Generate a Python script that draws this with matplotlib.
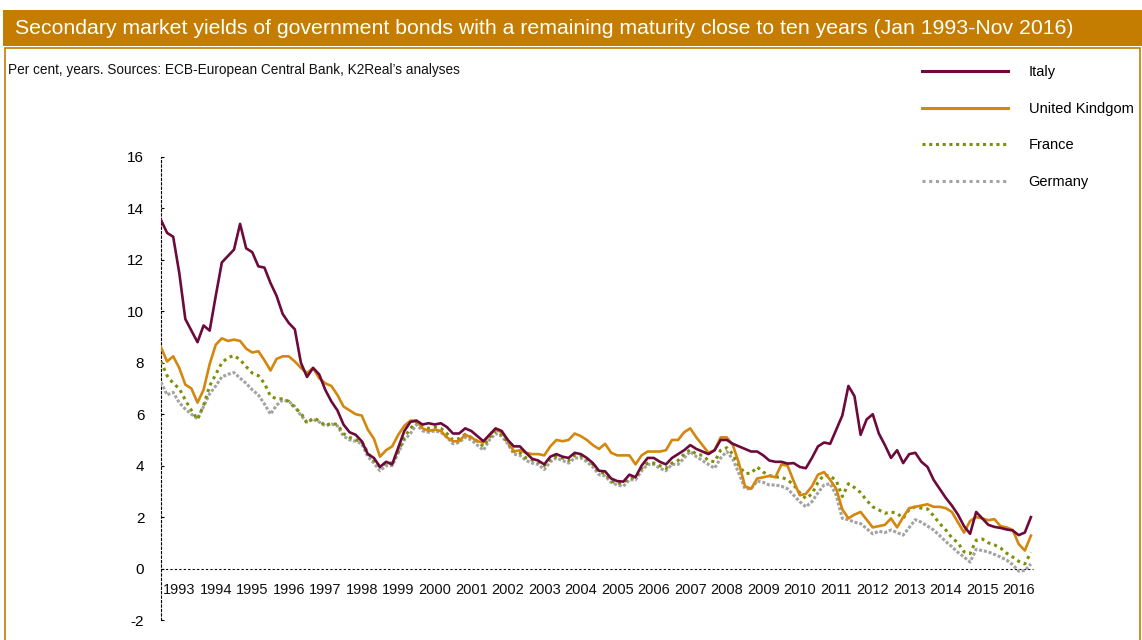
import numpy as np
import matplotlib
matplotlib.use("Agg")
import matplotlib.pyplot as plt
from matplotlib.patches import Rectangle
from matplotlib.lines import Line2D

# Bimonthly observations (Jan, Mar, May, Jul, Sep, Nov), Jan 1993 - Nov 2016
italy = [
    13.55, 13.05, 12.9, 11.5, 9.7, 9.25,
    8.8, 9.45, 9.25, 10.6, 11.9, 12.15,
    12.4, 13.4, 12.45, 12.3, 11.75, 11.7,
    11.1, 10.6, 9.9, 9.55, 9.3, 8.0,
    7.45, 7.8, 7.55, 6.95, 6.5, 6.15,
    5.6, 5.3, 5.2, 4.95, 4.45, 4.3,
    3.95, 4.15, 4.05, 4.7, 5.35, 5.7,
    5.75, 5.6, 5.65, 5.6, 5.65, 5.5,
    5.25, 5.25, 5.45, 5.35, 5.15, 4.95,
    5.2, 5.45, 5.35, 5.0, 4.75, 4.75,
    4.5, 4.27, 4.2, 4.05, 4.35, 4.45,
    4.35, 4.3, 4.5, 4.45, 4.3, 4.1,
    3.8, 3.78, 3.5, 3.4, 3.38, 3.65,
    3.55, 4.0, 4.3, 4.3, 4.15, 4.05,
    4.3, 4.45, 4.6, 4.8, 4.65, 4.55,
    4.45, 4.6, 5.0, 5.0, 4.85, 4.75,
    4.65, 4.55, 4.55, 4.4, 4.2, 4.15,
    4.15, 4.08, 4.1, 3.95, 3.9, 4.3,
    4.75, 4.9, 4.85, 5.4, 5.95, 7.1,
    6.7, 5.2, 5.8, 6.0, 5.25, 4.8,
    4.3, 4.6, 4.1, 4.45, 4.5, 4.15,
    3.95, 3.45, 3.1, 2.75, 2.45, 2.1,
    1.65, 1.35, 2.2, 1.95, 1.7, 1.62,
    1.58, 1.52, 1.48, 1.3, 1.4, 2.0,
]

united_kingdom = [
    8.6, 8.05, 8.25, 7.8, 7.15, 7.0,
    6.45, 6.95, 7.95, 8.7, 8.95, 8.85,
    8.9, 8.85, 8.55, 8.4, 8.45, 8.1,
    7.7, 8.15, 8.25, 8.25, 8.05, 7.8,
    7.6, 7.8, 7.4, 7.2, 7.1, 6.75,
    6.3, 6.15, 6.0, 5.95, 5.4, 5.05,
    4.35, 4.6, 4.75, 5.2, 5.55, 5.75,
    5.75, 5.45, 5.35, 5.4, 5.35, 5.1,
    4.95, 4.95, 5.2, 5.1, 4.95, 4.9,
    5.2, 5.4, 5.3, 5.0, 4.55, 4.6,
    4.5, 4.45, 4.45, 4.4, 4.75, 5.0,
    4.95, 5.0, 5.25, 5.15, 5.0, 4.8,
    4.65, 4.85, 4.5, 4.4, 4.4, 4.4,
    4.05, 4.4, 4.55, 4.55, 4.55, 4.6,
    5.0, 5.0, 5.3, 5.45, 5.1, 4.8,
    4.5, 4.6, 5.1, 5.1, 4.8, 4.1,
    3.2, 3.1, 3.5, 3.55, 3.6, 3.55,
    4.05, 4.0, 3.4, 2.85, 2.9, 3.2,
    3.65, 3.75, 3.45, 3.1, 2.3, 1.95,
    2.1, 2.2, 1.9, 1.6, 1.65, 1.7,
    1.95, 1.6, 2.0, 2.35, 2.4, 2.45,
    2.5, 2.4, 2.4, 2.35, 2.2, 1.8,
    1.4, 1.85, 2.0, 1.95, 1.88, 1.92,
    1.65, 1.6, 1.5, 0.95, 0.7, 1.28,
]

france = [
    8.05, 7.5, 7.2, 7.0, 6.55, 6.15,
    5.8, 6.35, 7.1, 7.55, 8.0, 8.2,
    8.28, 8.12, 7.85, 7.6, 7.5, 7.2,
    6.7, 6.6, 6.6, 6.5, 6.25, 6.05,
    5.65, 5.85, 5.75, 5.55, 5.65, 5.6,
    5.25, 5.1, 5.0, 4.95, 4.5, 4.2,
    3.95, 4.12, 4.1, 4.55, 5.1, 5.45,
    5.7, 5.5, 5.45, 5.5, 5.45, 5.25,
    5.0, 5.05, 5.22, 5.1, 4.95, 4.75,
    5.1, 5.35, 5.2, 4.9, 4.55, 4.5,
    4.3, 4.22, 4.15, 4.0, 4.25, 4.35,
    4.3, 4.2, 4.4, 4.38, 4.25, 4.05,
    3.75, 3.7, 3.4, 3.3, 3.35, 3.5,
    3.55, 3.9, 4.1, 4.1, 4.0, 3.9,
    4.1, 4.2, 4.45, 4.62, 4.45, 4.4,
    4.2, 4.15, 4.6, 4.7, 4.45, 4.0,
    3.7, 3.7, 3.95, 3.75, 3.62, 3.56,
    3.55, 3.45, 3.25, 2.95, 2.72, 2.9,
    3.35, 3.65, 3.6, 3.42, 2.8, 3.3,
    3.15, 2.95, 2.65, 2.4, 2.28, 2.15,
    2.2, 2.15, 1.95, 2.3, 2.4, 2.35,
    2.32, 2.05, 1.75, 1.5, 1.2, 1.0,
    0.65, 0.58, 1.1, 1.15, 1.0, 0.92,
    0.8, 0.6, 0.45, 0.28, 0.18, 0.63,
]

germany = [
    7.25, 6.75, 6.85, 6.45, 6.2, 6.0,
    5.82, 6.3, 6.8, 7.1, 7.45, 7.55,
    7.62, 7.4, 7.2, 6.95, 6.75, 6.4,
    6.0, 6.35, 6.55, 6.5, 6.3, 5.95,
    5.7, 5.8, 5.7, 5.55, 5.62, 5.55,
    5.15, 5.0, 4.95, 4.85, 4.35, 4.1,
    3.8, 4.0, 4.0, 4.5, 5.0, 5.25,
    5.6, 5.35, 5.3, 5.35, 5.3, 5.1,
    4.85, 4.9, 5.1, 5.0, 4.8, 4.6,
    5.0, 5.25, 5.15, 4.85, 4.45, 4.4,
    4.2, 4.1, 4.05, 3.85, 4.15, 4.3,
    4.2, 4.1, 4.3, 4.3, 4.15, 3.95,
    3.65, 3.6, 3.35, 3.25, 3.2, 3.45,
    3.45, 3.8, 4.05, 4.05, 3.9, 3.8,
    4.05, 4.05, 4.3, 4.55, 4.35, 4.2,
    4.05, 3.9, 4.3, 4.55, 4.25, 3.7,
    3.1, 3.1, 3.4, 3.35, 3.25, 3.25,
    3.2, 3.1, 2.85, 2.6, 2.4, 2.6,
    2.95, 3.25, 3.3, 2.85, 1.95, 1.9,
    1.8, 1.75, 1.55, 1.35, 1.45, 1.4,
    1.5, 1.4, 1.3, 1.6, 1.9, 1.8,
    1.65, 1.5, 1.28, 1.05, 0.85, 0.63,
    0.45, 0.25, 0.75, 0.7, 0.65, 0.55,
    0.45, 0.33, 0.15, -0.1, -0.08, 0.18,
]

years = list(range(1993, 2017))
y_ticks = [-2, 0, 2, 4, 6, 8, 10, 12, 14, 16]

title = "Secondary market yields of government bonds with a remaining maturity close to ten years (Jan 1993-Nov 2016)"
subtitle = "Per cent, years. Sources: ECB-European Central Bank, K2Real\u2019s analyses"

C_ITALY = "#6d0a3c"
C_UK = "#d4870c"
C_FRANCE = "#7f8f0a"
C_GERMANY = "#a3a3a3"
C_FRAME = "#c47d00"

SANS = ["Liberation Sans", "DejaVu Sans"]

# time axis: one sample every two months from Jan 1993
t = 1993 + np.arange(len(italy)) * 2 / 12.0

W, H = 1142, 640
fig = plt.figure(figsize=(W / 100, H / 100), dpi=100)
renderer = fig.canvas.get_renderer()


def fit_width(txt, width_px):
    """Scale a text's font size so its rendered width equals width_px."""
    bb = txt.get_window_extent(renderer)
    txt.set_fontsize(txt.get_fontsize() * width_px / bb.width)


# header bar and frame
fig.patches.append(Rectangle((3 / W, 1 - 46 / H), 1 - 3 / W, 36 / H,
                             transform=fig.transFigure, facecolor=C_FRAME,
                             edgecolor="none", zorder=0))
fig.patches.append(Rectangle((5 / W, -0.01), 1135 / W, 1 - 48 / H + 0.01,
                             transform=fig.transFigure, facecolor="none",
                             edgecolor=C_FRAME, linewidth=1.2, zorder=0))
t_title = fig.text(15 / W, 1 - 28 / H, title, color="white", fontsize=15,
                   family=SANS, ha="left", va="center")
fit_width(t_title, 1060)
t_sub = fig.text(8 / W, 1 - 70 / H, subtitle, color="#111111", fontsize=11,
                 family=SANS, ha="left", va="center")
fit_width(t_sub, 450)

ax = fig.add_axes([161 / W, 1 - 620 / H, 876 / W, 463 / H])
ax.set_xlim(1993, 2017)
ax.set_ylim(-2, 16)

ax.plot(t, germany, color=C_GERMANY, lw=2.2, linestyle=(0, (1, 0.6)),
        label="Germany", zorder=3)
ax.plot(t, france, color=C_FRANCE, lw=2.2, linestyle=(0, (1, 1.3)),
        label="France", zorder=4)
ax.plot(t, united_kingdom, color=C_UK, lw=1.9, label="United Kindgom", zorder=5)
ax.plot(t, italy, color=C_ITALY, lw=1.9, label="Italy", zorder=6)

# zero line
ax.axhline(0, xmin=0, xmax=(t[-1] + 0.05 - 1993) / 24, color="black",
           lw=0.8, linestyle=(0, (2, 2)), zorder=2)

for s in ["top", "right", "bottom"]:
    ax.spines[s].set_visible(False)
ax.spines["left"].set_linestyle((0, (2, 2)))
ax.spines["left"].set_linewidth(0.8)

ax.set_yticks(y_ticks)
ax.set_yticklabels([str(v) for v in y_ticks])
ax.tick_params(axis="y", direction="in", length=2, width=0.8, pad=12,
               labelsize=11)
for lab in ax.get_yticklabels():
    lab.set_family(SANS)
ax.set_xticks([])

for yr in years:
    ax.text(yr + 0.5, -0.85, str(yr), ha="center", va="center", fontsize=10.5,
            family=SANS, color="#111111")

handles = [
    Line2D([], [], color=C_ITALY, lw=2.2),
    Line2D([], [], color=C_UK, lw=2.2),
    Line2D([], [], color=C_FRANCE, lw=2.2, linestyle=(0, (1, 1.2))),
    Line2D([], [], color=C_GERMANY, lw=2.2, linestyle=(0, (1, 1.2))),
]
labels = ["Italy", "United Kindgom", "France", "Germany"]
leg = fig.legend(handles, labels, loc="upper left",
                 bbox_to_anchor=(909 / W, 1 - 52 / H), frameon=False,
                 handlelength=5.9, handletextpad=1.4, labelspacing=1.55,
                 prop={"family": SANS, "size": 10.5})

fig.savefig("out.png", dpi=100, facecolor="white")
